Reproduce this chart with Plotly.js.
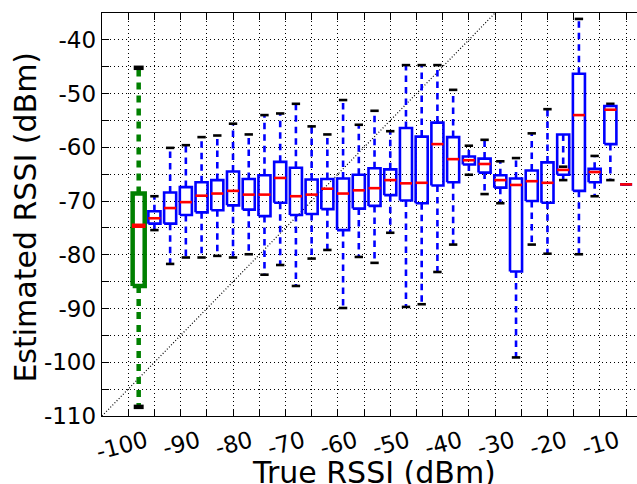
<!DOCTYPE html>
<html>
<head>
<meta charset="utf-8">
<script src="https://cdn.plot.ly/plotly-3.0.1.min.js"></script>
<style>
  html, body { margin: 0; padding: 0; overflow: hidden; background: #fff; }
  #chart { width: 646px; height: 484px; }
</style>
</head>
<body>
<div id="chart"></div>
<script>
// True RSSI positions (dBm) of each box
const positions = [-98, -95, -92, -89, -86, -83, -80, -77, -74, -71, -68, -65, -62, -59, -56, -53,
                   -50, -47, -44, -41, -38, -35, -32, -29, -26, -23, -20, -17, -14, -11, -8, -5];
// Estimated RSSI statistics per box (dBm)
const upperCap = [-45.2, -69.1, -60.1, -59.6, -58.1, -57.8, -55.6, -57.6, -54.0, -53.7, -51.9, -56.1, -57.6, -51.2, -55.8, -53.2,
                  -57.0, -44.7, -44.7, -44.7, -49.3, -59.7, -58.6, -62.6, -62.0, -57.4, -52.9, -63.6, -36.1, -61.6, -51.9, -66.9];
const q3       = [-68.6, -71.9, -68.4, -67.4, -66.5, -66.1, -64.5, -65.9, -65.2, -62.7, -63.8, -66.0, -65.9, -65.8, -65.1, -63.9,
                  -64.1, -56.4, -58.0, -55.4, -58.1, -61.7, -62.1, -65.2, -65.8, -64.3, -62.8, -57.6, -46.3, -64.0, -52.3, -66.9];
const medians  = [-74.6, -73.2, -71.3, -70.2, -69.0, -68.6, -68.1, -68.8, -68.8, -65.7, -69.1, -68.8, -67.7, -68.6, -68.0, -67.6,
                  -66.1, -66.7, -66.6, -59.4, -62.2, -62.4, -63.1, -66.1, -67.0, -66.3, -66.6, -64.2, -54.0, -64.6, -53.0, -66.9];
const q1       = [-85.8, -74.2, -74.2, -72.6, -72.1, -71.7, -70.8, -71.6, -72.8, -70.3, -72.6, -72.4, -71.5, -75.4, -71.4, -70.9,
                  -68.9, -69.9, -70.4, -67.1, -66.5, -63.2, -64.7, -67.5, -83.1, -70.0, -70.3, -65.1, -68.1, -66.5, -59.4, -66.9];
const lowerCap = [-108.3, -75.4, -81.7, -80.5, -80.5, -80.2, -80.5, -79.9, -83.7, -81.9, -85.8, -80.7, -79.1, -89.9, -80.4, -81.5,
                  -75.9, -89.7, -89.2, -83.2, -78.1, -65.1, -68.7, -70.4, -99.1, -78.1, -79.8, -66.1, -79.9, -69.1, -66.1, -66.9];
// index of the highlighted (green) box
const highlighted = [0];

// reference (dotted diagonal) line
const refLineX = [-105, -30];
const refLineY = [-110, -35];

// ticks and titles
const xTickVals = [-100, -95, -90, -85, -80, -75, -70, -65, -60, -55, -50, -45, -40, -35, -30, -25, -20, -15, -10, -5];
const xTickText = ['-100', '', '-90', '', '-80', '', '-70', '', '-60', '', '-50', '', '-40', '', '-30', '', '-20', '', '-10', ''];
const yTickVals = [-110, -105, -100, -95, -90, -85, -80, -75, -70, -65, -60, -55, -50, -45, -40, -35];
const yTickText = ['-110', '', '-100', '', '-90', '', '-80', '', '-70', '', '-60', '', '-50', '', '-40', ''];
const xTitle = 'True RSSI (dBm)';
const yTitle = 'Estimated RSSI (dBm)';

function boxTraces(idx, s) {
  const bx = [], by = [], wx = [], wy = [], cx = [], cy = [], mx = [], my = [];
  idx.forEach(i => {
    const x = positions[i];
    bx.push(x - s.hw, x + s.hw, x + s.hw, x - s.hw, x - s.hw, null);
    by.push(q1[i], q1[i], q3[i], q3[i], q1[i], null);
    wx.push(x, x, null, x, x, null);
    wy.push(q3[i], upperCap[i], null, q1[i], lowerCap[i], null);
    cx.push(x - s.cw, x + s.cw, null, x - s.cw, x + s.cw, null);
    cy.push(upperCap[i], upperCap[i], null, lowerCap[i], lowerCap[i], null);
    mx.push(x - s.mw, x + s.mw, null);
    my.push(medians[i], medians[i], null);
  });
  const base = { type: 'scatter', mode: 'lines', hoverinfo: 'skip', showlegend: false };
  return [
    Object.assign({}, base, { x: wx, y: wy, line: { color: s.color, width: s.lw, dash: s.dash } }),
    Object.assign({}, base, { x: cx, y: cy, line: { color: '#000000', width: s.lw } }),
    Object.assign({}, base, { x: bx, y: by, line: { color: s.color, width: s.lw } }),
    Object.assign({}, base, { x: mx, y: my, line: { color: '#ff0000', width: s.lw } })
  ];
}

const blueIdx = positions.map((_, i) => i).filter(i => !highlighted.includes(i));

const traces = [
  { type: 'scatter', mode: 'lines', x: refLineX, y: refLineY, hoverinfo: 'skip', showlegend: false,
    line: { color: '#000000', width: 1.2, dash: '1px,2px' } }
].concat(
  boxTraces(blueIdx, { color: '#0000ff', lw: 2.6, hw: 1.15, cw: 0.8, mw: 1.15, dash: '6.5px,5px' }),
  boxTraces(highlighted, { color: '#008000', lw: 4.5, hw: 1.15, cw: 0.95, mw: 1.3, dash: '7px,6px' })
);

const fontFam = 'DejaVu Sans, Liberation Sans, sans-serif';
const layout = {
  width: 646, height: 484,
  margin: { l: 102, r: 0, t: 13, b: 68, pad: 0, autoexpand: false },
  paper_bgcolor: '#ffffff', plot_bgcolor: '#ffffff',
  showlegend: false, hovermode: false,
  font: { family: fontFam, color: '#000000' },
  xaxis: {
    range: [-105, -1.2], autorange: false,
    tickmode: 'array', tickvals: xTickVals, ticktext: xTickText,
    tickangle: -15, ticklabelshift: 18, ticklabelstandoff: 2,
    tickfont: { size: 23, family: fontFam },
    ticks: 'inside', ticklen: 7, tickwidth: 1, tickcolor: '#000',
    showline: true, linecolor: '#000', linewidth: 1.3, mirror: 'ticks',
    showgrid: true, gridcolor: '#000', gridwidth: 1, griddash: '1px,3px',
    zeroline: false, automargin: false
  },
  yaxis: {
    range: [-110, -35], autorange: false,
    tickmode: 'array', tickvals: yTickVals, ticktext: yTickText,
    tickfont: { size: 23, family: fontFam },
    ticks: 'inside', ticklen: 7, tickwidth: 1, tickcolor: '#000',
    showline: true, linecolor: '#000', linewidth: 1.3, mirror: 'ticks',
    showgrid: true, gridcolor: '#000', gridwidth: 1, griddash: '1px,3px',
    zeroline: false, automargin: false
  },
  annotations: [
    { text: xTitle, xref: 'paper', yref: 'paper', x: 0.5, y: 0, xanchor: 'center', yanchor: 'top',
      yshift: -37, showarrow: false, font: { size: 30, family: fontFam, color: '#000' } },
    { text: yTitle, xref: 'paper', yref: 'paper', x: 0, y: 0.5, xanchor: 'center', yanchor: 'middle',
      xshift: -77.4, yshift: -2.5, textangle: -90, showarrow: false, font: { size: 30, family: fontFam, color: '#000' } }
  ]
};

Plotly.newPlot('chart', traces, layout, { staticPlot: true, displayModeBar: false });
</script>
</body>
</html>
